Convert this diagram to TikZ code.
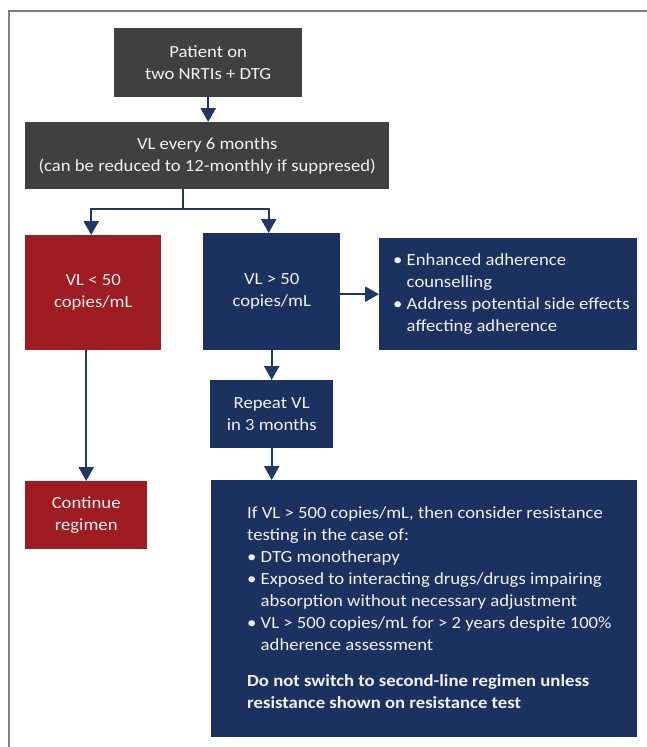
\documentclass[tikz,border=0pt]{standalone}
\usepackage{fontspec}
\setmainfont{Carlito}[FakeStretch=1.1]
\usetikzlibrary{arrows.meta, positioning}

\definecolor{boxgray}{HTML}{404040}
\definecolor{boxred}{HTML}{9E1C22}
\definecolor{boxnavy}{HTML}{1B3160}
\definecolor{linenavy}{HTML}{1F3864}
\definecolor{framegray}{HTML}{7F7F7F}

\begin{document}
\begin{tikzpicture}[
  x=1pt, y=-1pt,
  every node/.style={font=\fontsize{17}{22}\selectfont, text=white!95!black},
  box/.style={inner sep=0pt, align=center, anchor=north west},
  flow/.style={linenavy, line width=2.4pt, -{Triangle[length=14pt, width=15pt]}},
  link/.style={linenavy, line width=2.4pt}
]

%% ── page frame ───────────────────────────────────────────────────────────────
\useasboundingbox (0,0) rectangle (647,747);
\draw[framegray, line width=1.5pt] (9,747) -- (9,11) -- (647,11);

%% ── boxes ────────────────────────────────────────────────────────────────────
\node[box, fill=boxgray, minimum width=188pt, minimum height=69pt] (patient)
  at (114,28) {Patient on\\two NRTIs + DTG};
\node[box, fill=boxgray, minimum width=364pt, minimum height=67pt] (vlsix)
  at (25,122) {VL every 6 months\\(can be reduced to 12-monthly if suppresed)};

\node[box, fill=boxred, minimum width=136pt, minimum height=115pt] (vllow)
  at (25,235) {VL < 50\\copies/mL};
\node[box, fill=boxnavy, minimum width=137pt, minimum height=117pt] (vlhigh)
  at (203,233) {VL > 50\\copies/mL};
\node[box, fill=boxnavy, minimum width=258pt, minimum height=112pt] (advice)
  at (379,238) {};
\node[anchor=west, align=left, inner sep=0pt] (advicetext)
  at ([xshift=14pt]advice.west)
  {\textbullet\ Enhanced adherence\\
   \phantom{\textbullet\ }counselling\\
   \textbullet\ Address potential side effects\\
   \phantom{\textbullet\ }affecting adherence};

\node[box, fill=boxnavy, minimum width=123pt, minimum height=68pt] (repeat)
  at (210,380) {Repeat VL\\in 3 months};
\node[box, fill=boxred, minimum width=122pt, minimum height=68pt] (cont)
  at (25,481) {Continue\\regimen};

\node[box, fill=boxnavy, minimum width=426pt, minimum height=257pt] (resist)
  at (211,480) {};
\node[anchor=north west, align=left, inner sep=0pt] (resisttext)
  at ([xshift=36pt, yshift=-26pt]resist.north west)
  {If VL > 500 copies/mL, then consider resistance\\
   testing in the case of:\\
   \textbullet\ DTG monotherapy\\
   \textbullet\ Exposed to interacting drugs/drugs impairing\\
   \phantom{\textbullet\ }absorption without necessary adjustment\\
   \textbullet\ VL > 500 copies/mL for > 2 years despite 100\%\\
   \phantom{\textbullet\ }adherence assessment\\[14pt]
   \textbf{Do not switch to second-line regimen unless}\\
   \textbf{resistance shown on resistance test}};

%% ── connectors ───────────────────────────────────────────────────────────────
\coordinate (split) at (183,209);
\draw[flow] (patient.south) -- (patient.south |- vlsix.north);
\draw[link] (split |- vlsix.south) -- (split);
\draw[flow] (split) -| ([xshift=-2pt]vllow.north);
\draw[flow] (split) -| ([xshift=-3pt]vlhigh.north);
\draw[flow] (vlhigh.east |- advice) -- (advice.west);
\draw[flow] (repeat.north |- vlhigh.south) -- (repeat.north);
\draw[flow] (repeat.south) -- (repeat.south |- resist.north);
\draw[flow] (cont.north |- vllow.south) -- (cont.north);

\end{tikzpicture}
\end{document}
